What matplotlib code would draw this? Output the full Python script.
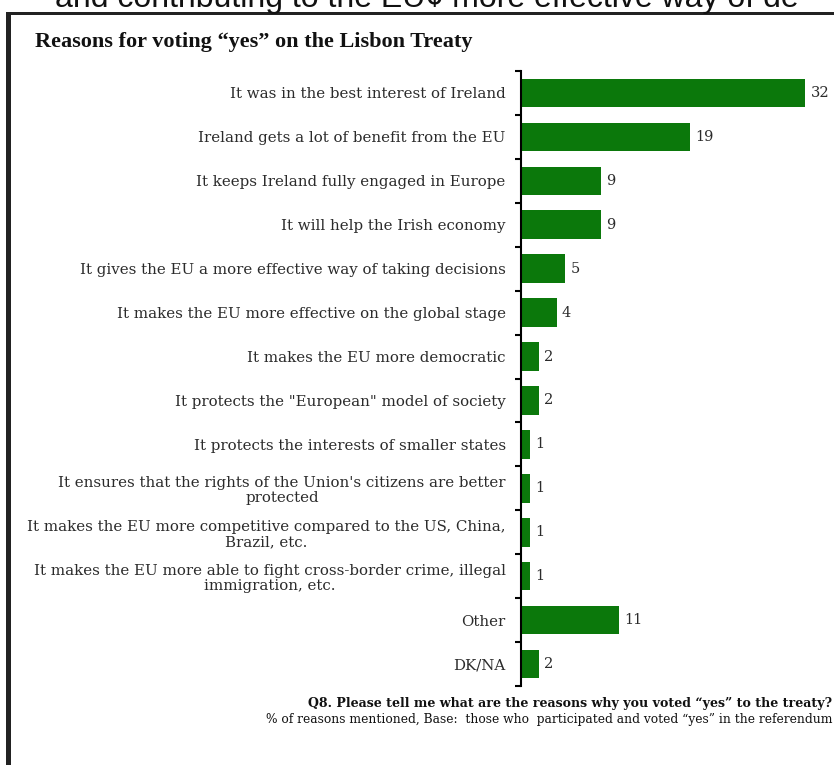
import numpy as np
import matplotlib.pyplot as plt
from matplotlib.patches import Rectangle

# dane
powody = [
    "It was in the best interest of Ireland",
    "Ireland gets a lot of benefit from the EU",
    "It keeps Ireland fully engaged in Europe",
    "It will help the Irish economy",
    "It gives the EU a more effective way of taking decisions",
    "It makes the EU more effective on the global stage",
    "It makes the EU more democratic",
    "It protects the \"European\" model of society",
    "It protects the interests of smaller states",
    "It ensures that the rights of the Union's citizens are better\nprotected",
    "It makes the EU more competitive compared to the US, China,\nBrazil, etc.",
    "It makes the EU more able to fight cross-border crime, illegal\nimmigration, etc.",
    "Other",
    "DK/NA",
]
procenty = [32, 19, 9, 9, 5, 4, 2, 2, 1, 1, 1, 1, 11, 2]

tytul = "Reasons for voting \u201cyes\u201d on the Lisbon Treaty"
pytanie = "Q8. Please tell me what are the reasons why you voted \u201cyes\u201d to the treaty?"
baza = "% of reasons mentioned, Base:  those who  participated and voted \u201cyes\u201d in the referendum"
gora = "and contributing to the EU\u00a2 more effective way of de"

zielony = "#0b780b"
szary = "#2b2b2b"

fig = plt.figure(figsize=(8.34, 7.65), dpi=100)
W, H = 834, 765

# ramka
fig.add_artist(Rectangle((6 / W, 0), 5 / W, 1 - 12 / H, transform=fig.transFigure,
                         facecolor="#222222", edgecolor="none"))
fig.add_artist(Rectangle((6 / W, 1 - 15 / H), 1, 3 / H, transform=fig.transFigure,
                         facecolor="#222222", edgecolor="none"))

# ucięty tekst na górze
fig.text(55 / W, 1 - 7 / H, gora, fontsize=23, family="Liberation Sans",
         color="#111111", va="baseline", ha="left")

fig.text(35 / W, 1 - 42 / H, tytul, fontsize=16, family="Liberation Serif",
         weight="bold", color="#111111", va="center", ha="left")

ax = fig.add_axes([521 / W, 1 - 686 / H, 311 / W, 615 / H])
y = np.arange(len(powody))
bars = ax.barh(y, procenty, height=0.65, color=zielony, edgecolor="none")
ax.set_ylim(len(powody) - 0.5, -0.5)
ax.set_xlim(0, 35)

for b, v in zip(bars, procenty):
    ax.text(b.get_width() + 0.6, b.get_y() + b.get_height() / 2, str(v),
            va="center", ha="left", fontsize=10.5, family="DejaVu Serif", color=szary)

ax.set_yticks(y)
ax.set_yticklabels(powody, fontsize=10.8, family="DejaVu Serif", color=szary,
                   multialignment="center", linespacing=1.1)
ax.tick_params(axis="y", which="major", length=0, pad=11)
ax.set_yticks(np.arange(-0.5, len(powody)), minor=True)
ax.tick_params(axis="y", which="minor", length=4, width=1.5, color="black")
ax.set_xticks([])
for s in ["top", "right", "bottom"]:
    ax.spines[s].set_visible(False)
ax.spines["left"].set_linewidth(1.5)

fig.text(832 / W, 1 - 703 / H, pytanie, fontsize=9.1, family="DejaVu Serif",
         weight="bold", color="#111111", ha="right", va="center")
fig.text(832 / W, 1 - 720 / H, baza, fontsize=8.8, family="DejaVu Serif",
         color="#111111", ha="right", va="center")

fig.savefig("out.png", dpi=100)
